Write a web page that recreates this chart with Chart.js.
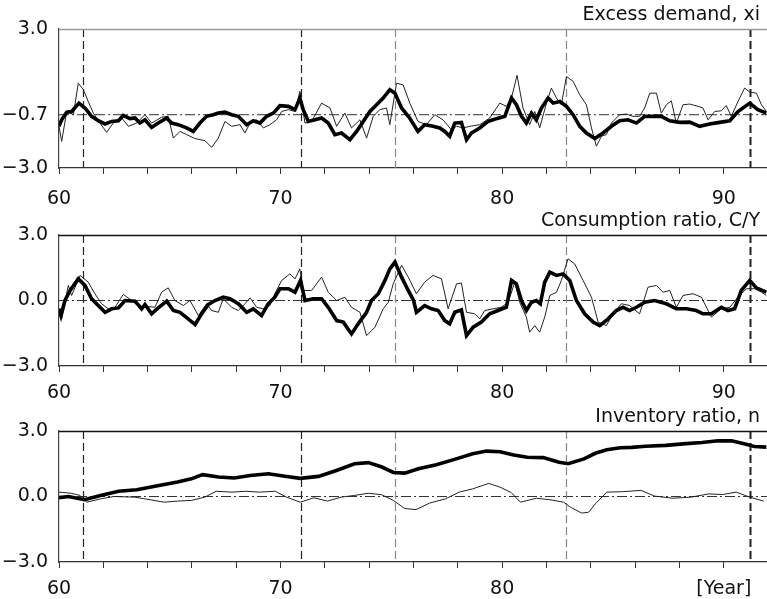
<!DOCTYPE html>
<html>
<head>
<meta charset="utf-8">
<script src="https://cdn.jsdelivr.net/npm/chart.js@4.4.0/dist/chart.umd.min.js"></script>
<style>
  body { margin: 0; background: #fff; width: 767px; height: 599px; overflow: hidden; position: relative; }
  canvas { position: absolute; left: 0; }
</style>
</head>
<body>
<canvas id="xiChart" width="767" height="210" style="top:0px"></canvas>
<canvas id="cyChart" width="767" height="202" style="top:206px"></canvas>
<canvas id="invChart" width="767" height="197" style="top:402px"></canvas>
<script>
// turning points (years) marked by vertical dashed lines
const turnYears = [61.1, 70.9, 75.15, 82.9, 91.2];

// excess demand, xi
const xiThickYears = [60.0, 60.12, 60.35, 60.57, 60.9, 61.17, 61.47, 61.77, 62.08, 62.38, 62.68, 62.9, 63.2, 63.43, 63.65, 63.88, 64.18, 64.48, 64.86, 65.08, 65.38, 65.76, 66.06, 66.36, 66.66, 66.96, 67.19, 67.49, 67.79, 68.09, 68.47, 68.77, 69.07, 69.37, 69.67, 69.97, 70.35, 70.65, 70.87, 71.02, 71.25, 71.55, 71.85, 72.15, 72.45, 72.75, 73.13, 73.43, 73.73, 74.03, 74.33, 74.63, 74.93, 75.16, 75.46, 75.83, 76.2, 76.5, 76.88, 77.18, 77.41, 77.63, 77.86, 78.16, 78.39, 78.61, 78.99, 79.36, 79.74, 80.12, 80.42, 80.64, 80.87, 81.09, 81.32, 81.54, 81.77, 82.07, 82.3, 82.6, 82.9, 83.2, 83.5, 83.8, 84.18, 84.55, 84.93, 85.3, 85.68, 86.06, 86.43, 86.81, 87.18, 87.56, 88.01, 88.46, 88.91, 89.36, 89.81, 90.27, 90.64, 91.17, 91.54, 91.92];
const xiThick = [-1.2, -0.92, -0.59, -0.56, -0.2, -0.41, -0.77, -0.96, -1.1, -0.99, -0.96, -0.73, -0.87, -0.84, -1.06, -0.92, -1.25, -1.06, -0.84, -1.06, -1.13, -1.27, -1.42, -1.06, -0.77, -0.7, -0.63, -0.59, -0.7, -0.77, -1.13, -0.96, -1.06, -0.77, -0.63, -0.31, -0.34, -0.48, 0.02, -0.48, -0.99, -0.92, -0.84, -1.06, -1.56, -1.49, -1.78, -1.42, -0.99, -0.56, -0.27, 0.02, 0.38, 0.23, -0.41, -0.85, -1.42, -1.13, -1.2, -1.27, -1.42, -1.63, -1.06, -1.03, -1.78, -1.49, -1.27, -0.99, -0.87, -0.77, 0.02, -0.27, -0.77, -1.06, -0.63, -0.92, -0.41, 0.02, -0.2, -0.13, -0.34, -0.7, -1.2, -1.49, -1.73, -1.49, -1.2, -0.96, -0.92, -1.06, -0.77, -0.77, -0.77, -0.96, -1.03, -1.02, -1.2, -1.1, -1.03, -0.96, -0.56, -0.2, -0.48, -0.63];
const xiThinYears = [60.0, 60.12, 60.35, 60.65, 60.87, 61.1, 61.32, 61.55, 61.85, 62.15, 62.45, 62.83, 63.13, 63.5, 63.88, 64.18, 64.63, 64.93, 65.16, 65.46, 65.76, 66.14, 66.59, 66.89, 67.19, 67.49, 67.79, 68.17, 68.39, 68.62, 68.92, 69.22, 69.52, 69.82, 70.05, 70.35, 70.65, 70.87, 71.1, 71.4, 71.85, 72.23, 72.53, 72.9, 73.2, 73.58, 73.88, 74.18, 74.48, 74.78, 74.93, 75.23, 75.53, 75.83, 76.2, 76.58, 76.96, 77.33, 77.71, 77.94, 78.24, 78.54, 78.99, 79.44, 79.89, 80.19, 80.42, 80.67, 80.94, 81.24, 81.47, 81.69, 82.0, 82.22, 82.45, 82.67, 82.9, 83.2, 83.5, 83.8, 84.03, 84.25, 84.48, 84.7, 84.93, 85.3, 85.6, 85.9, 86.2, 86.43, 86.66, 86.96, 87.18, 87.41, 87.63, 87.86, 88.16, 88.46, 88.84, 89.06, 89.29, 89.59, 89.89, 90.11, 90.34, 90.64, 90.94, 91.17, 91.47, 91.7, 91.92];
const xiThin = [-1.2, -1.85, -0.56, -0.7, 0.66, 0.38, -0.13, -0.63, -1.06, -1.46, -1.06, -0.84, -1.2, -1.06, -0.7, -1.06, -0.81, -0.77, -1.71, -1.42, -1.56, -1.73, -1.82, -2.11, -1.71, -0.99, -1.2, -1.13, -1.49, -1.06, -0.92, -1.27, -1.13, -0.92, -0.56, -0.48, -0.56, 0.31, -1.06, -0.99, -0.2, -0.41, -1.2, -0.63, -1.27, -0.92, -1.71, -0.77, -0.48, -0.41, -1.13, 0.66, 0.59, -0.2, -0.99, -1.13, -0.7, -0.92, -1.35, -1.2, -1.27, -1.2, -1.13, -0.84, -0.2, -0.34, 0.02, 1.0, -0.41, -1.13, -0.56, -1.27, -0.2, 0.45, 0.02, -0.27, 0.95, 0.74, 0.16, -0.27, -1.27, -2.06, -1.63, -1.56, -1.06, -0.7, -0.67, -0.77, -0.77, -0.41, 0.23, 0.23, -0.63, -0.27, -0.1, -1.06, -0.27, -0.24, -0.34, -0.41, -0.92, -0.56, -0.53, -0.3, -0.77, -0.13, 0.45, 0.28, 0.23, -0.27, -0.56];

// consumption ratio, C/Y
const cyThickYears = [60.0, 60.09, 60.27, 60.5, 60.87, 61.17, 61.47, 61.77, 62.08, 62.38, 62.68, 62.98, 63.43, 63.73, 63.88, 64.18, 64.48, 64.86, 65.16, 65.46, 65.83, 66.14, 66.44, 66.74, 67.04, 67.41, 67.71, 68.09, 68.47, 68.77, 69.14, 69.44, 69.74, 69.97, 70.35, 70.65, 70.9, 71.1, 71.47, 71.85, 72.15, 72.53, 72.83, 73.2, 73.5, 73.88, 74.1, 74.41, 74.71, 74.93, 75.16, 75.46, 75.76, 76.0, 76.13, 76.5, 76.81, 77.11, 77.41, 77.63, 77.86, 78.16, 78.39, 78.69, 79.06, 79.44, 79.81, 80.19, 80.42, 80.64, 80.87, 81.09, 81.32, 81.54, 81.72, 81.92, 82.15, 82.45, 82.75, 83.05, 83.35, 83.72, 84.1, 84.4, 84.78, 85.15, 85.45, 85.75, 86.06, 86.43, 86.88, 87.41, 87.86, 88.31, 88.76, 89.06, 89.44, 89.89, 90.19, 90.49, 90.79, 91.17, 91.47, 91.92];
const cyThick = [-0.38, -0.69, 0, 0.46, 0.99, 0.69, 0.08, -0.23, -0.54, -0.38, -0.34, 0, -0.03, -0.38, -0.18, -0.61, -0.34, -0.03, -0.46, -0.54, -0.84, -1.1, -0.61, -0.18, 0, 0.15, 0.08, -0.15, -0.54, -0.38, -0.69, -0.15, 0.15, 0.54, 0.54, 0.38, 0.92, 0, 0.08, 0.08, -0.31, -0.92, -0.99, -1.53, -1.07, -0.54, 0, 0.31, 0.92, 1.45, 1.76, 1.07, 0.46, 0.0, -0.54, -0.23, -0.38, -0.46, -0.92, -1.07, -0.54, -0.43, -1.61, -1.22, -0.99, -0.61, -0.46, -0.31, 0.92, 0.76, 0, -0.46, -0.08, 0, -0.15, 0.84, 1.3, 1.15, 1.22, 0.92, 0, -0.61, -0.99, -1.15, -0.84, -0.46, -0.31, -0.46, -0.31, -0.08, 0, -0.15, -0.38, -0.38, -0.46, -0.61, -0.61, -0.31, -0.46, -0.38, 0.46, 0.92, 0.58, 0.38];
const cyThinYears = [60.0, 60.12, 60.42, 60.57, 60.95, 61.32, 61.62, 61.92, 62.23, 62.53, 62.9, 63.28, 63.65, 64.03, 64.33, 64.63, 64.93, 65.23, 65.61, 65.91, 66.29, 66.66, 66.89, 67.19, 67.41, 67.79, 68.09, 68.39, 68.62, 68.92, 69.22, 69.52, 69.74, 70.05, 70.42, 70.65, 70.87, 71.02, 71.4, 71.85, 72.15, 72.53, 72.9, 73.2, 73.58, 73.88, 74.26, 74.63, 74.86, 75.08, 75.46, 75.76, 76.13, 76.5, 76.88, 77.26, 77.56, 77.94, 78.16, 78.39, 78.76, 78.99, 79.21, 79.59, 79.96, 80.27, 80.57, 80.79, 81.09, 81.24, 81.47, 81.69, 81.92, 82.15, 82.45, 82.67, 82.97, 83.27, 83.65, 84.03, 84.33, 84.7, 85.0, 85.38, 85.75, 86.2, 86.58, 86.96, 87.26, 87.56, 87.86, 88.16, 88.61, 88.99, 89.44, 89.89, 90.27, 90.64, 91.02, 91.4, 91.7, 91.92];
const cyThin = [-0.46, -0.84, 0.69, 0.23, 1.15, 0.84, 0.31, -0.15, -0.38, -0.31, 0.28, 0, -0.31, -0.28, -0.31, 0.38, 0.58, 0, -0.23, 0, -0.69, -0.15, -0.46, -0.54, 0.08, -0.31, -0.46, -0.15, 0.12, -0.31, -0.38, -0.23, 0.31, 0.92, 1.22, 0.99, 1.45, 0.46, 0.46, 1.07, 0.38, 0, 0.15, -0.31, -0.54, -1.61, -1.22, -0.38, -0.08, 0.76, 1.61, 1.07, 0.31, 0.84, 1.15, 0.99, -0.38, 0.76, 0.8, -0.54, -0.61, -0.84, -0.46, -0.38, -0.31, -0.08, 0.84, -0.08, -0.76, -1.45, -1.15, -1.45, -0.76, 0.23, 0.38, 0.92, 1.91, 1.68, 0.92, 0.15, -0.99, -1.15, -0.61, -0.15, -0.23, -0.61, 0.61, 0.69, 0.38, 0.46, -0.31, 0.23, 0.31, 0.15, -0.76, -0.38, -0.31, 0.15, 0.54, 0.54, 0.38, 0.23];

// inventory ratio, n
const invThickYears = [60.0, 60.43, 61.15, 61.87, 62.69, 63.51, 64.33, 65.35, 65.97, 66.48, 67.2, 67.91, 68.63, 69.45, 70.27, 70.89, 71.71, 72.52, 73.34, 73.96, 74.57, 75.09, 75.6, 76.22, 77.03, 77.85, 78.67, 79.29, 79.9, 80.52, 81.13, 81.85, 82.57, 82.98, 83.69, 84.2, 84.72, 85.33, 85.84, 86.46, 87.38, 88.3, 89.02, 89.74, 90.35, 90.96, 91.38, 91.92];
const invThick = [-0.05, 0.0, -0.15, 0.05, 0.24, 0.31, 0.47, 0.66, 0.81, 1.0, 0.89, 0.85, 0.96, 1.04, 0.92, 0.83, 0.92, 1.19, 1.5, 1.55, 1.35, 1.1, 1.07, 1.27, 1.45, 1.7, 1.96, 2.08, 2.05, 1.9, 1.8, 1.78, 1.57, 1.5, 1.72, 1.98, 2.14, 2.23, 2.25, 2.3, 2.34, 2.42, 2.47, 2.55, 2.55, 2.4, 2.29, 2.26];
const invThinYears = [60.0, 60.54, 60.95, 61.25, 61.87, 62.48, 63.41, 64.12, 64.74, 65.35, 65.97, 66.58, 67.09, 67.81, 68.43, 69.04, 69.76, 70.27, 70.89, 71.5, 72.12, 72.73, 73.34, 73.96, 74.57, 75.09, 75.6, 76.11, 76.73, 77.44, 78.06, 78.67, 79.39, 79.9, 80.41, 80.82, 81.54, 82.16, 82.77, 83.08, 83.59, 83.9, 84.2, 84.72, 85.44, 86.26, 86.87, 87.69, 88.51, 89.33, 89.94, 90.56, 91.17, 91.8];
const invThin = [0.2, 0.15, 0.05, -0.26, -0.11, 0.0, -0.03, -0.15, -0.26, -0.21, -0.18, -0.03, 0.24, 0.2, 0.24, 0.2, 0.24, -0.03, -0.26, -0.06, -0.21, -0.03, 0.05, 0.15, 0.08, -0.18, -0.55, -0.6, -0.3, -0.11, 0.2, 0.35, 0.6, 0.43, 0.18, -0.26, -0.08, -0.15, -0.26, -0.49, -0.76, -0.72, -0.34, 0.2, 0.22, 0.28, 0.02, -0.08, -0.03, 0.12, 0.09, 0.2, -0.03, -0.21];

// y tick values per panel
const xiTicks = [-3.0, -0.7, 3.0];
const cyTicks = [-3.0, 0.0, 3.0];
const invTicks = [-3.0, 0.0, 3.0];

const FONT = "'DejaVu Sans', 'Liberation Sans', sans-serif";
Chart.defaults.font.family = FONT;
Chart.defaults.font.size = 19;
Chart.defaults.color = '#111';

function pts(xs, ys) {
    return xs.map((x, i) => ({ x: x, y: ys[i] }));
}

// guide lines, top frame and panel title
const guides = {
    id: 'guides',
    beforeDatasetsDraw(chart, args, opts) {
        const ctx = chart.ctx;
        const a = chart.chartArea;
        const xs = chart.scales.x;
        const ys = chart.scales.y;
        ctx.save();
        // horizontal dash-dot reference line
        const yr = ys.getPixelForValue(opts.ref);
        ctx.strokeStyle = '#333';
        ctx.lineWidth = 1;
        ctx.setLineDash([10, 3, 2, 3]);
        ctx.beginPath();
        ctx.moveTo(a.left, yr);
        ctx.lineTo(a.right, yr);
        ctx.stroke();
        // vertical dashed lines
        turnYears.forEach(function (yv, i) {
            const x = Math.round(xs.getPixelForValue(yv)) + 0.5;
            const faint = (i === 2 || i === 3);
            ctx.strokeStyle = faint ? '#888' : '#222';
            ctx.lineWidth = i === 4 ? 2 : 1.2;
            ctx.setLineDash([8, 4]);
            ctx.beginPath();
            ctx.moveTo(x, a.top);
            ctx.lineTo(x, a.bottom);
            ctx.stroke();
        });
        ctx.restore();
    },
    afterDraw(chart, args, opts) {
        const ctx = chart.ctx;
        const a = chart.chartArea;
        ctx.save();
        ctx.strokeStyle = opts.frame;
        ctx.lineWidth = 1.5;
        ctx.beginPath();
        ctx.moveTo(a.left, a.top + 0.5);
        ctx.lineTo(a.right, a.top + 0.5);
        ctx.stroke();
        ctx.fillStyle = '#111';
        ctx.font = '19px ' + FONT;
        ctx.textAlign = 'right';
        ctx.textBaseline = 'alphabetic';
        ctx.fillText(opts.title, 760, a.top - 9);
        ctx.restore();
    }
};

function makePanel(id, title, frame, ref, tickVals, thickX, thickY, thinX, thinY, xHeight, xPad, lastLabel) {
    const ctx = document.getElementById(id);
    return new Chart(ctx, {
        type: 'line',
        data: {
            datasets: [{
                data: pts(thickX, thickY),
                borderColor: '#000',
                borderWidth: 3.6,
                pointRadius: 0,
                tension: 0
            }, {
                data: pts(thinX, thinY),
                borderColor: '#222',
                borderWidth: 1,
                pointRadius: 0,
                tension: 0
            }]
        },
        options: {
            responsive: false,
            animation: false,
            devicePixelRatio: 1,
            layout: { padding: { top: 29, left: 0, right: 0, bottom: 0 } },
            plugins: {
                legend: { display: false },
                tooltip: { enabled: false },
                guides: { title: title, frame: frame, ref: ref }
            },
            scales: {
                x: {
                    type: 'linear',
                    min: 60,
                    max: 91.95,
                    grid: { display: true, drawOnChartArea: false, drawTicks: true, tickLength: 6, color: '#333' },
                    border: { display: true, color: '#333', width: 1.2 },
                    ticks: {
                        stepSize: 2,
                        autoSkip: false,
                        maxRotation: 0,
                        includeBounds: false,
                        padding: xPad,
                        color: '#111',
                        callback: function (v) {
                            if (v % 10 !== 0) return '';
                            if (v === 90 && lastLabel) return lastLabel;
                            return String(v);
                        }
                    },
                    afterFit: function (s) { s.height = xHeight; }
                },
                y: {
                    min: -3,
                    max: 3,
                    grid: { display: false, drawTicks: false },
                    border: { display: true, color: '#444', width: 1.2 },
                    ticks: {
                        padding: 11,
                        color: '#111',
                        callback: function (v) {
                            return v.toFixed(1).replace('-', '\u2212');
                        }
                    },
                    afterBuildTicks: function (s) {
                        s.ticks = tickVals.map(function (v) { return { value: v }; });
                    },
                    afterFit: function (s) { s.width = 59; }
                }
            }
        },
        plugins: [guides]
    });
}

makePanel('xiChart', 'Excess demand, xi', '#999', -0.7, xiTicks, xiThickYears, xiThick, xiThinYears, xiThin, 42, 14, null);
makePanel('cyChart', 'Consumption ratio, C/Y', '#111', 0, cyTicks, cyThickYears, cyThick, cyThinYears, cyThin, 42, 10, null);
makePanel('invChart', 'Inventory ratio, n', '#111', 0, invTicks, invThickYears, invThick, invThinYears, invThin, 37, 10, '[Year]');
</script>
</body>
</html>
